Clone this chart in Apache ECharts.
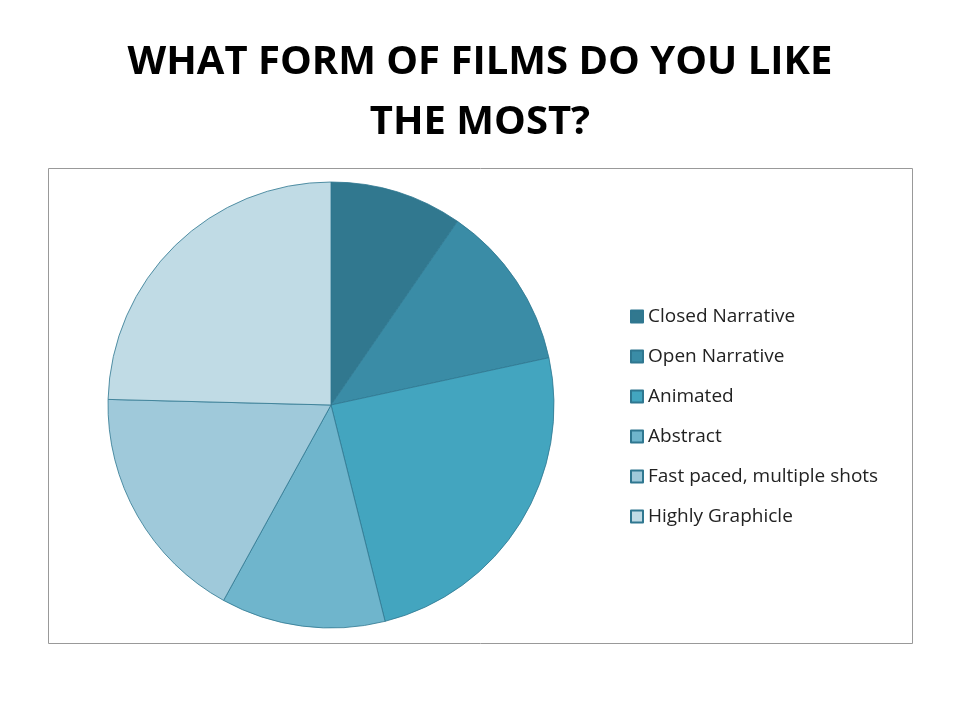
<!DOCTYPE html><html><head><meta charset="utf-8">
<script src="https://cdn.jsdelivr.net/npm/echarts@6/dist/echarts.min.js"></script>
<style>body{margin:0;background:#fff}#c{width:960px;height:720px}</style></head><body><div id="c"></div>
<script>
const categories=["Closed Narrative","Open Narrative","Animated","Abstract","Fast paced, multiple shots","Highly Graphicle"];
const values=[9.6,12.0,24.5,11.9,17.4,24.6];
const colors=["#31788F","#3A8CA6","#43A5BF","#6FB5CC","#9FC9DA","#C0DBE5"];
const chart=echarts.init(document.getElementById('c'));
chart.setOption({
 animation:false,
 title:{text:"WHAT FORM OF FILMS DO YOU LIKE\nTHE MOST?",left:'center',top:28,
  textStyle:{fontFamily:"Open Sans",fontWeight:'bold',fontSize:40,color:'#000',lineHeight:60}},
 graphic:[{type:'rect',shape:{x:48.5,y:168.5,width:864,height:475},style:{fill:'none',stroke:'#999',lineWidth:1}}],
 legend:{orient:'vertical',left:625,top:302,itemWidth:12,itemHeight:12,itemGap:21,icon:'rect',
  textStyle:{fontFamily:"Open Sans",fontSize:19,color:'#222'},data:categories},
 series:[{type:'pie',center:[331,405],radius:223,startAngle:90,clockwise:true,label:{show:false},
  itemStyle:{borderColor:'#2f7790',borderWidth:0.8},
  data:categories.map((n,i)=>({name:n,value:values[i],itemStyle:{color:colors[i]}}))}]
});
</script></body></html>
